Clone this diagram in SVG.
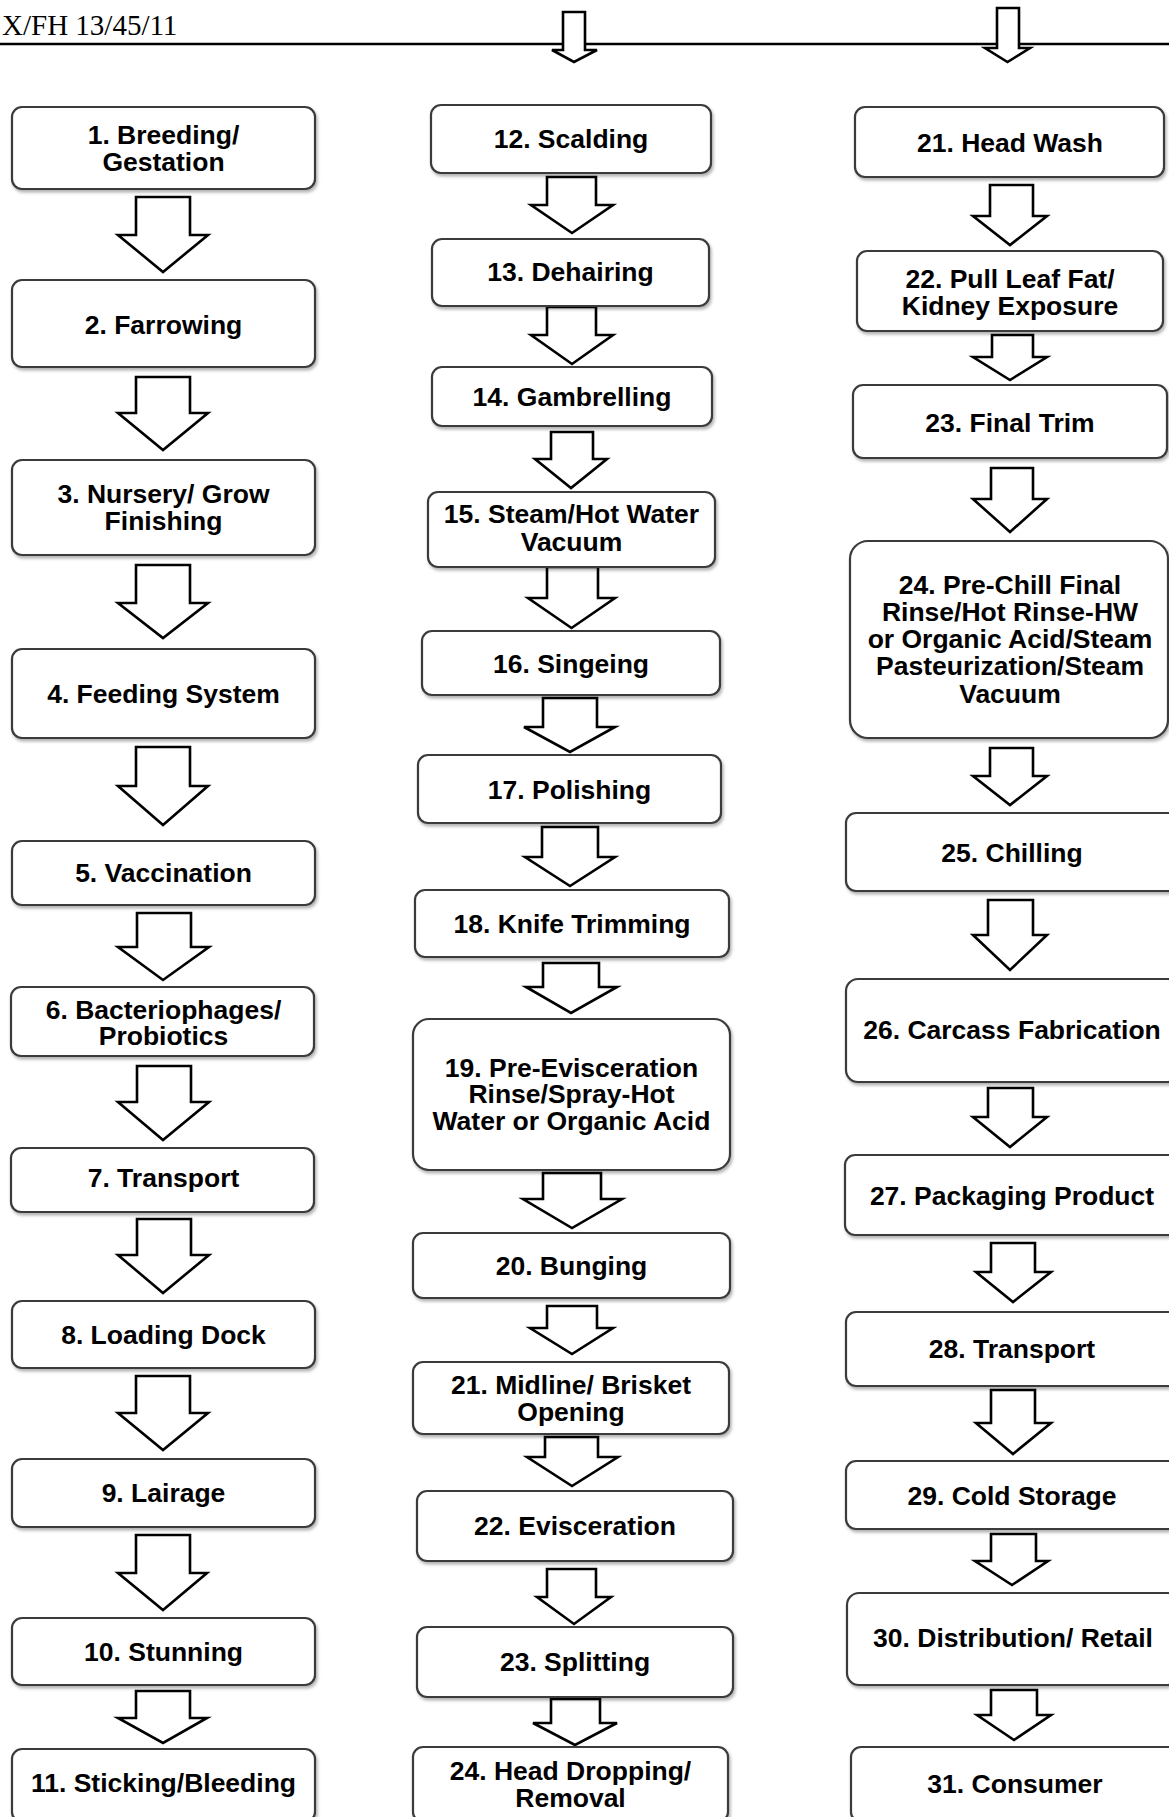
<svg xmlns="http://www.w3.org/2000/svg" width="1169" height="1817" viewBox="0 0 1169 1817">
<defs>
<filter id="sh" x="-5%" y="-10%" width="115%" height="130%">
<feDropShadow dx="1.5" dy="2.5" stdDeviation="1.5" flood-color="#000" flood-opacity="0.3"/>
</filter>
</defs>
<style>
.box{fill:#fff;stroke:#3a3a3a;stroke-width:2.2;filter:url(#sh)}
.t{font-family:"Liberation Sans",Arial,sans-serif;font-weight:bold;font-size:26.5px;fill:#000;text-anchor:middle}
.arr{fill:#fff;stroke:#000;stroke-width:2.6;stroke-linejoin:miter}
.hdr{font-family:"Liberation Serif","Times New Roman",serif;font-size:29px;fill:#000}
</style>
<rect width="1169" height="1817" fill="#fff"/>
<g id="header">
<text class="hdr" x="2" y="35">X/FH 13/45/11</text>
<line x1="0" y1="44" x2="1169" y2="44" stroke="#000" stroke-width="2.6"/>
</g>
<g id="connectors">
<path class="arr" d="M563,12 H585 V50 H597 L574,62 L552,50 H563 Z"/>
<path class="arr" d="M997,8 H1019 V48 H1030 L1007.5,62 L985,48 H997 Z"/>
<!-- column 1 -->
<path class="arr" d="M136,197 H190 V235 H208 L163,272 L118,235 H136 Z"/>
<path class="arr" d="M136,377 H190 V413 H208 L163,450 L118,413 H136 Z"/>
<path class="arr" d="M136,565 H190 V603 H208 L163,638 L118,603 H136 Z"/>
<path class="arr" d="M136,747 H190 V786 H208 L163,825 L118,786 H136 Z"/>
<path class="arr" d="M137,913 H191 V947 H209 L163,980 L118,947 H137 Z"/>
<path class="arr" d="M137,1066 H191 V1102 H209 L163,1140 L118,1102 H137 Z"/>
<path class="arr" d="M137,1219 H191 V1255 H209 L163,1293 L118,1255 H137 Z"/>
<path class="arr" d="M136,1376 H190 V1413 H208 L163,1450 L118,1413 H136 Z"/>
<path class="arr" d="M136,1535 H190 V1573 H207 L163,1610 L118,1573 H136 Z"/>
<path class="arr" d="M136,1691 H190 V1718 H207 L163,1743 L118,1718 H136 Z"/>
<!-- column 2 -->
<path class="arr" d="M547,177 H596 V205 H613 L572,233 L531,205 H547 Z"/>
<path class="arr" d="M547,307 H596 V335 H613 L572,364 L531,335 H547 Z"/>
<path class="arr" d="M551,432 H593 V459 H607 L571,488 L535,459 H551 Z"/>
<path class="arr" d="M547,567 H598 V598 H615 L571.5,628 L528,598 H547 Z"/>
<path class="arr" d="M543,698 H597 V727 H615 L570,752 L524,727 H543 Z"/>
<path class="arr" d="M542,827 H598 V857 H615 L570,886 L525,857 H542 Z"/>
<path class="arr" d="M543,963 H599 V987 H617 L571,1013 L526,987 H543 Z"/>
<path class="arr" d="M543,1173 H601 V1199 H622 L572,1228 L523,1199 H543 Z"/>
<path class="arr" d="M547,1306 H597 V1328 H613 L572,1354 L530,1328 H547 Z"/>
<path class="arr" d="M545,1437 H598 V1457 H618 L572,1486 L527,1457 H545 Z"/>
<path class="arr" d="M547,1569 H596 V1597 H611 L574,1624 L537,1597 H547 Z"/>
<path class="arr" d="M551,1699 H600 V1723 H617 L575,1745 L533,1723 H551 Z"/>
<!-- column 3 -->
<path class="arr" d="M990,185 H1033 V216 H1047 L1010,245 L973,216 H990 Z"/>
<path class="arr" d="M992,335 H1033 V357 H1047 L1010,380 L973,357 H992 Z"/>
<path class="arr" d="M991,468 H1033 V499 H1047 L1010,532 L973,499 H991 Z"/>
<path class="arr" d="M990,748 H1033 V776 H1047 L1010,805 L973,776 H990 Z"/>
<path class="arr" d="M988,900 H1033 V935 H1047 L1010,970 L973,935 H988 Z"/>
<path class="arr" d="M988,1088 H1033 V1117 H1047 L1010,1147 L973,1117 H988 Z"/>
<path class="arr" d="M991,1243 H1035 V1272 H1051 L1013,1302 L976,1272 H991 Z"/>
<path class="arr" d="M991,1390 H1035 V1423 H1051 L1013,1454 L976,1423 H991 Z"/>
<path class="arr" d="M991,1534 H1036 V1561 H1048 L1012,1585 L975,1561 H991 Z"/>
<path class="arr" d="M991,1690 H1037 V1715 H1051 L1014,1740 L977,1715 H991 Z"/>
</g>
<!-- column 1 nodes -->
<g id="n1"><rect class="box" x="12" y="107" width="303" height="82" rx="10"/><text class="t" x="163.5" y="144">1. Breeding/</text><text class="t" x="163.5" y="170.7">Gestation</text></g>
<g id="n2"><rect class="box" x="12" y="280" width="303" height="87" rx="10"/><text class="t" x="163.5" y="334">2. Farrowing</text></g>
<g id="n3"><rect class="box" x="12" y="460" width="303" height="95" rx="10"/><text class="t" x="163.5" y="503.3">3. Nursery/ Grow</text><text class="t" x="163.5" y="530">Finishing</text></g>
<g id="n4"><rect class="box" x="12" y="649" width="303" height="89" rx="10"/><text class="t" x="163.5" y="702.5">4. Feeding System</text></g>
<g id="n5"><rect class="box" x="12" y="841" width="303" height="64" rx="10"/><text class="t" x="163.5" y="882">5. Vaccination</text></g>
<g id="n6"><rect class="box" x="11" y="987" width="303" height="69" rx="10"/><text class="t" x="163.5" y="1018.5">6. Bacteriophages/</text><text class="t" x="163.5" y="1045.2">Probiotics</text></g>
<g id="n7"><rect class="box" x="11" y="1148" width="303" height="64" rx="10"/><text class="t" x="163.5" y="1187.3">7. Transport</text></g>
<g id="n8"><rect class="box" x="12" y="1301" width="303" height="67" rx="10"/><text class="t" x="163.5" y="1343.5">8. Loading Dock</text></g>
<g id="n9"><rect class="box" x="12" y="1459" width="303" height="68" rx="10"/><text class="t" x="163.5" y="1502">9. Lairage</text></g>
<g id="n10"><rect class="box" x="12" y="1618" width="303" height="67" rx="10"/><text class="t" x="163.5" y="1661">10. Stunning</text></g>
<g id="n11"><rect class="box" x="12" y="1749" width="303" height="73" rx="10"/><text class="t" x="163.5" y="1791.7">11. Sticking/Bleeding</text></g>
<!-- column 2 nodes -->
<g id="n12"><rect class="box" x="431" y="105" width="280" height="68" rx="10"/><text class="t" x="571" y="148.3">12. Scalding</text></g>
<g id="n13"><rect class="box" x="432" y="239" width="277" height="67" rx="10"/><text class="t" x="570.5" y="280.7">13. Dehairing</text></g>
<g id="n14"><rect class="box" x="432" y="367" width="280" height="59" rx="10"/><text class="t" x="572" y="406">14. Gambrelling</text></g>
<g id="n15"><rect class="box" x="428" y="492" width="287" height="75" rx="10"/><text class="t" x="571.5" y="523.3">15. Steam/Hot Water</text><text class="t" x="571.5" y="550.7">Vacuum</text></g>
<g id="n16"><rect class="box" x="422" y="631" width="298" height="64" rx="10"/><text class="t" x="571" y="672.5">16. Singeing</text></g>
<g id="n17"><rect class="box" x="418" y="755" width="303" height="68" rx="10"/><text class="t" x="569.5" y="798.5">17. Polishing</text></g>
<g id="n18"><rect class="box" x="415" y="890" width="314" height="67" rx="10"/><text class="t" x="572" y="933">18. Knife Trimming</text></g>
<g id="n19"><rect class="box" x="413" y="1019" width="317" height="151" rx="16"/><text class="t" x="571.5" y="1076.7">19. Pre-Evisceration</text><text class="t" x="571.5" y="1103.3">Rinse/Spray-Hot</text><text class="t" x="571.5" y="1130">Water or Organic Acid</text></g>
<g id="n20"><rect class="box" x="413" y="1233" width="317" height="65" rx="10"/><text class="t" x="571.5" y="1275">20. Bunging</text></g>
<g id="n21b"><rect class="box" x="413" y="1362" width="316" height="72" rx="10"/><text class="t" x="571" y="1394">21. Midline/ Brisket</text><text class="t" x="571" y="1420.5">Opening</text></g>
<g id="n22b"><rect class="box" x="417" y="1491" width="316" height="70" rx="10"/><text class="t" x="575" y="1535">22. Evisceration</text></g>
<g id="n23b"><rect class="box" x="417" y="1627" width="316" height="70" rx="10"/><text class="t" x="575" y="1670.7">23. Splitting</text></g>
<g id="n24b"><rect class="box" x="413" y="1747" width="315" height="75" rx="10"/><text class="t" x="570.5" y="1780">24. Head Dropping/</text><text class="t" x="570.5" y="1807.3">Removal</text></g>
<!-- column 3 nodes -->
<g id="n21"><rect class="box" x="855" y="107" width="309" height="70" rx="10"/><text class="t" x="1010" y="151.7">21. Head Wash</text></g>
<g id="n22"><rect class="box" x="857" y="251" width="306" height="80" rx="10"/><text class="t" x="1010" y="287.5">22. Pull Leaf Fat/</text><text class="t" x="1010" y="314.5">Kidney Exposure</text></g>
<g id="n23"><rect class="box" x="853" y="385" width="314" height="73" rx="10"/><text class="t" x="1010" y="432">23. Final Trim</text></g>
<g id="n24"><rect class="box" x="850" y="541" width="318" height="197" rx="18"/><text class="t" x="1010" y="594">24. Pre-Chill Final</text><text class="t" x="1010" y="621">Rinse/Hot Rinse-HW</text><text class="t" x="1010" y="648">or Organic Acid/Steam</text><text class="t" x="1010" y="675">Pasteurization/Steam</text><text class="t" x="1010" y="702.5">Vacuum</text></g>
<g id="n25"><rect class="box" x="846" y="813" width="334" height="78" rx="10"/><text class="t" x="1012" y="861.5">25. Chilling</text></g>
<g id="n26"><rect class="box" x="846" y="979" width="334" height="103" rx="12"/><text class="t" x="1012" y="1039.3">26. Carcass Fabrication</text></g>
<g id="n27"><rect class="box" x="845" y="1155" width="335" height="80" rx="10"/><text class="t" x="1012" y="1205">27. Packaging Product</text></g>
<g id="n28"><rect class="box" x="846" y="1312" width="334" height="74" rx="10"/><text class="t" x="1012" y="1358">28. Transport</text></g>
<g id="n29"><rect class="box" x="846" y="1461" width="334" height="68" rx="10"/><text class="t" x="1012" y="1504.5">29. Cold Storage</text></g>
<g id="n30"><rect class="box" x="847" y="1593" width="333" height="92" rx="12"/><text class="t" x="1013" y="1647">30. Distribution/ Retail</text></g>
<g id="n31"><rect class="box" x="851" y="1747" width="329" height="75" rx="10"/><text class="t" x="1015" y="1792.7">31. Consumer</text></g>
</svg>
